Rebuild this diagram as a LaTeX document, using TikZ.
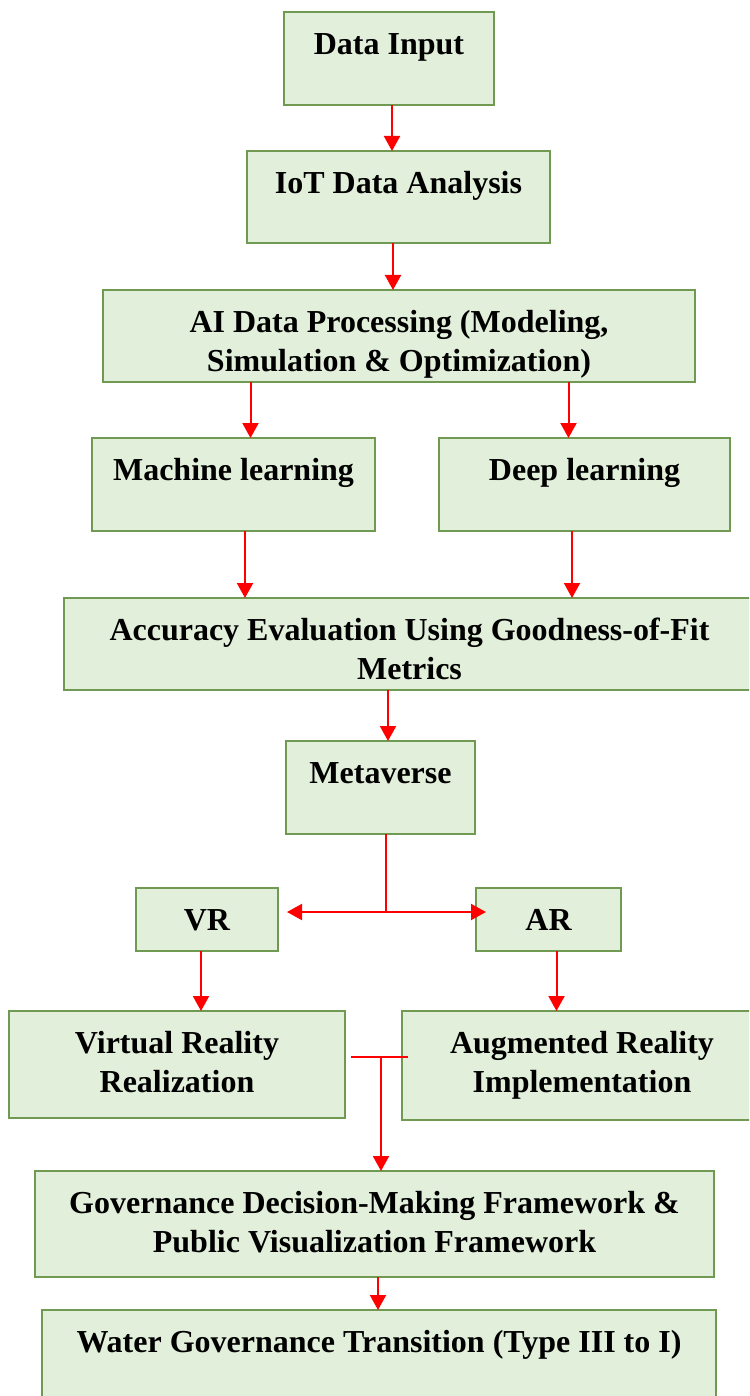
\documentclass[tikz,border=0pt]{standalone}
\usepackage{fontspec}
\setmainfont{Liberation Serif}
\usetikzlibrary{arrows.meta,calc}
\definecolor{boxfill}{RGB}{226,239,218}
\definecolor{boxline}{RGB}{112,154,82}
\definecolor{arrred}{RGB}{255,0,0}
\tikzset{
  gbox/.style={draw=boxline, fill=boxfill, line width=2pt, rectangle, inner sep=0pt, outer sep=0pt},
  glabel/.style={anchor=north, align=center, inner sep=0pt, font=\fontsize{32}{39}\selectfont\bfseries},
  rline/.style={draw=arrred, line width=2pt},
  arr/.style={rline, -{Triangle[width=16pt,length=15pt]}}
}
\newcommand\gbox[6]{%
  \node[gbox, minimum width={(#4-#2)*1pt}, minimum height={(#5-#3)*1pt}] (#1) at ({(#2+#4)/2},{(#3+#5)/2}) {};
  \node[glabel] (#1t) at ({(#2+#4)/2},{#3+42-27.3}) {\strut #6};
}
\begin{document}
\begin{tikzpicture}[x=1pt,y=-1pt]
\useasboundingbox (0,0) rectangle (749,1396);
\clip (0,0) rectangle (749,1396);
\gbox{b1}{284}{12}{494}{105}{Data Input}
\gbox{b2}{247}{151}{550}{243}{IoT Data Analysis}
\gbox{b3}{103}{290}{695}{382}{AI Data Processing (Modeling,\\Simulation \& Optimization)}
\gbox{b4}{92}{438}{375}{531}{Machine learning}
\gbox{b5}{439}{438}{730}{531}{Deep learning}
\gbox{b6}{64}{598}{755}{690}{Accuracy Evaluation Using Goodness-of-Fit\\Metrics}
\gbox{b7}{286}{741}{475}{834}{Metaverse}
\gbox{b8}{136}{888}{278}{951}{VR}
\gbox{b9}{476}{888}{621}{951}{AR}
\gbox{b10}{9}{1011}{345}{1118}{Virtual Reality\\Realization}
\gbox{b11}{402}{1011}{762}{1120}{Augmented Reality\\Implementation}
\gbox{b12}{35}{1171}{714}{1277}{Governance Decision-Making Framework \&\\Public Visualization Framework}
\gbox{b13}{42}{1310}{716}{1440}{Water Governance Transition (Type III to I)}
% connectors
\draw[arr] ([xshift=3pt]b1.south) -- ([xshift=3pt]b1.south |- b2.north);
\draw[arr] ([xshift=-5.5pt]b2.south) -- ([xshift=-5.5pt]b2.south |- b3.north);
\draw[arr] ([xshift=17pt]b4.north |- b3.south) -- ([xshift=17pt]b4.north);
\draw[arr] ([xshift=-16pt]b5.north |- b3.south) -- ([xshift=-16pt]b5.north);
\draw[arr] ([xshift=11.5pt]b4.south) -- ([xshift=11.5pt]b4.south |- b6.north);
\draw[arr] ([xshift=-12.5pt]b5.south) -- ([xshift=-12.5pt]b5.south |- b6.north);
\draw[arr] ([xshift=7.5pt]b7.north |- b6.south) -- ([xshift=7.5pt]b7.north);
\coordinate (j) at (386,912);
\draw[rline] (j |- b7.south) -- (j);
\draw[arr] (j) -- ([xshift=9pt]b8.east |- j);
\draw[arr] (j) -- ([xshift=10pt]b9.west |- j);
\draw[arr] ([xshift=-6pt]b8.south) -- ([xshift=-6pt]b8.south |- b10.north);
\draw[arr] ([xshift=8pt]b9.south) -- ([xshift=8pt]b9.south |- b11.north);
\coordinate (m) at (381,1057);
\coordinate (mL) at (351,1057);
\coordinate (mR) at (408,1057);
\draw[rline] (mL) -- (mR);
\draw[arr] (m) -- (m |- b12.north);
\draw[arr] ([xshift=3.5pt]b12.south) -- ([xshift=3.5pt]b12.south |- b13.north);
\end{tikzpicture}
\end{document}
